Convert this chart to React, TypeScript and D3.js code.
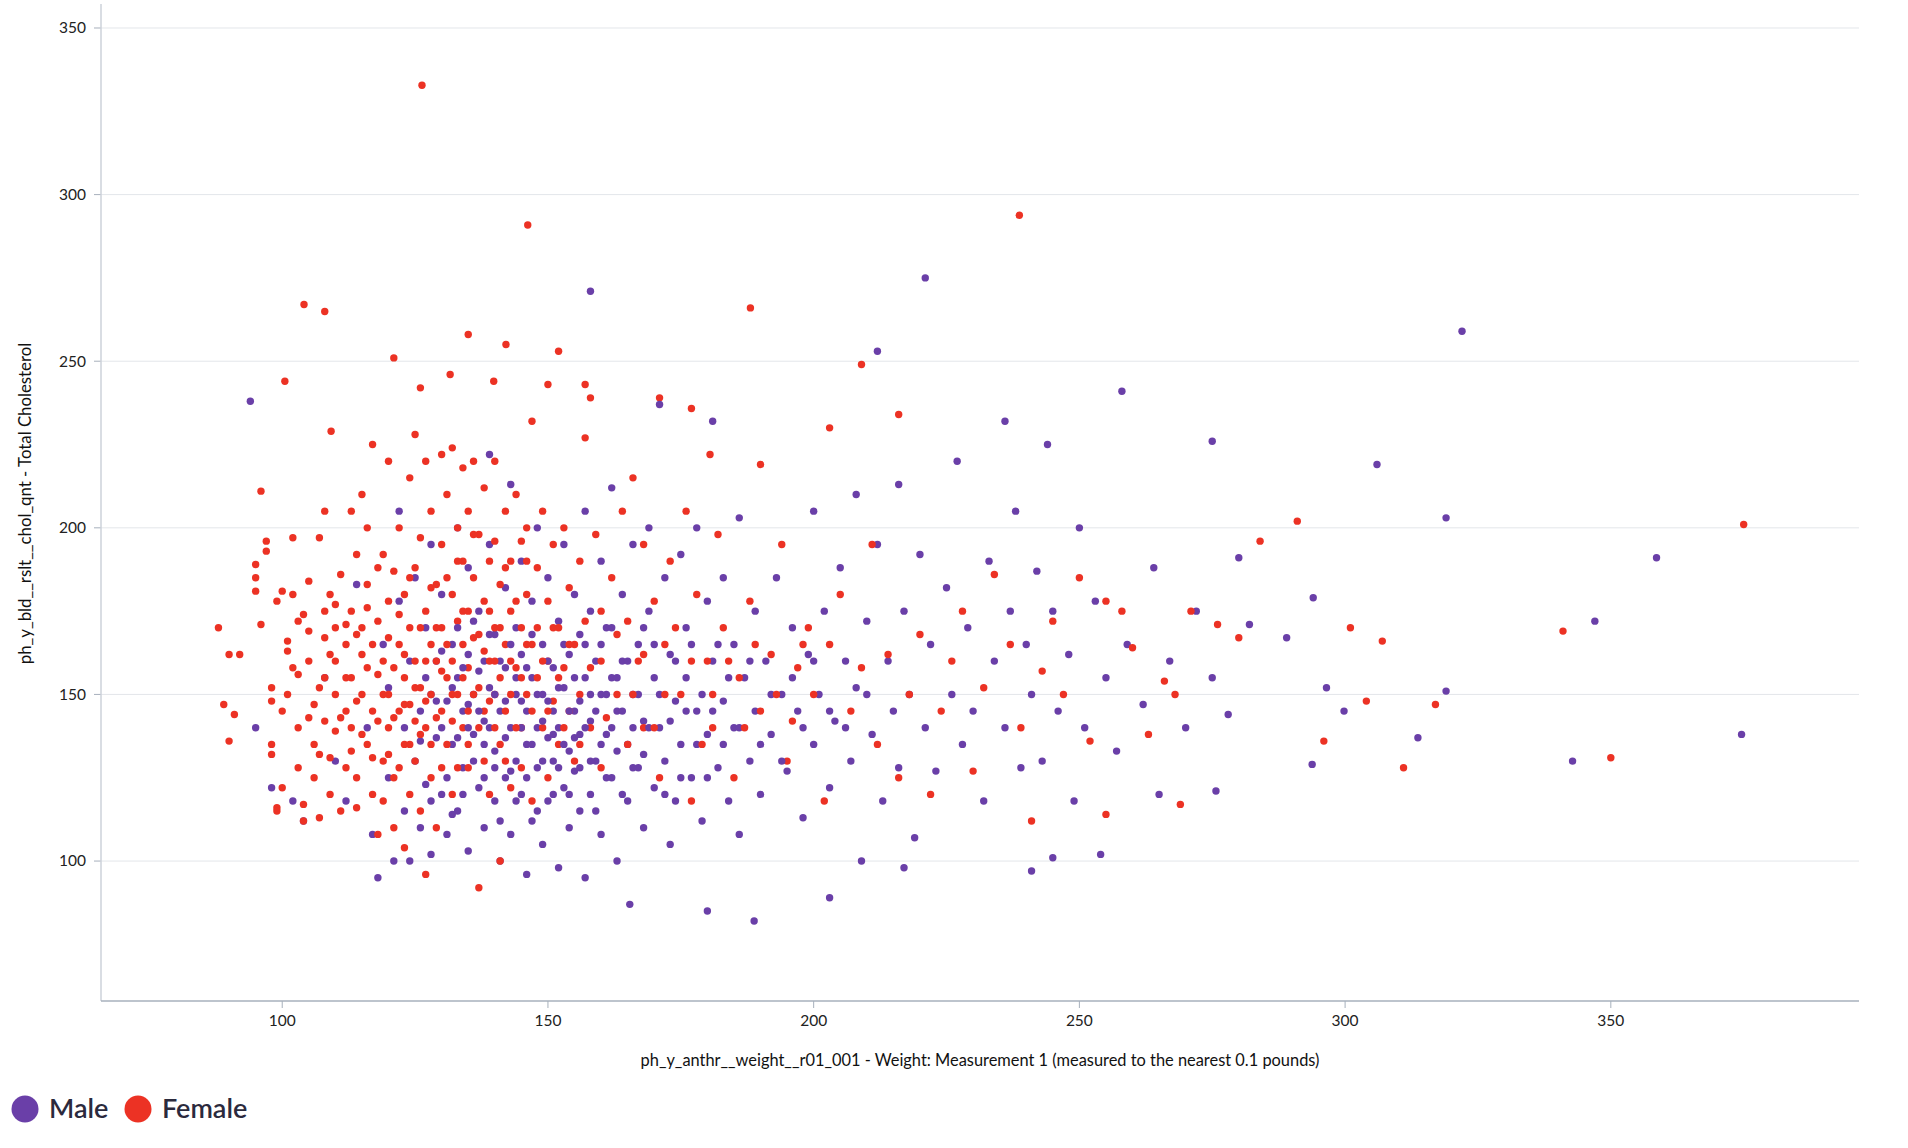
import React from "react";
import * as d3 from "d3";

const xTicks = [100, 150, 200, 250, 300, 350];
const yTicks = [100, 150, 200, 250, 300, 350];
const seriesNames = ["Male", "Female"];
const seriesColors = ["#6a3fa8", "#ec3224"];

const femaleRaw = [126.3,332.8,146.2,290.9,238.7,293.8,188.1,266,104.1,267,108,264.9,135,258,142.1,255,121,251,152,253,100.5,244,139.8,244,150,243,157,243,158,239,131.6,246,171,239,177,235.8,209,249,216,234,203,230,109.2,229,375,201,291,202,284,196,307,166,301,170,341,169,350,131,311,128,296,136,304,148,317,147,269,117,255,114,190,219,180.5,222,
88,170,89,147,90,136,90,162,92,162,91,144,95,189,95,185,95,181,96,171,96,211,97,196,97,193,98,152,98,148,98,135,98,132,99,116,99,115,100,181,99,178,101,166,101,163,101,150,100,145,100,122,102,197,102,180,103,172,103,156,103,140,103,128,104,117,104,112,105,184,105,169,105,160,106,147,106,135,106,125,107,113,107,197,108,205,108,175,108,167,108,155,108,142,109,180,109,131,109,120,110,170,110,160,110,150,110,139,111,186,111,115,112,165,112,145,112,128,113,205,113,175,113,155,113,140,114,192,114,125,114,116,115,210,115,170,115,162,115,150,116,200,116,183,116,135,117,225,117,145,117,120,118,172,118,156,118,108,119,192,119,160,119,130,120,220,120,178,120,150,120,140,121,187,121,125,121,110,122,200,122,165,122,145,123,180,123,155,123,135,123,104,124,215,124,170,124,147,124,120,125,228,125,188,125,160,125,130,126,242,126,197,126,152,126,115,127,220,127,175,127,140,127,96,128,205,128,165,128,150,128,125,129,183,129,160,129,110,130,222,130,195,130,170,130,145,131,210,131,155,131,135,132,224,132,180,132,160,132,120,133,200,133,172,133,150,134,218,134,190,134,165,134,140,135,205,135,175,135,158,135,128,136,220,136,185,136,150,137,198,137,168,137,92,138,212,138,178,138,145,139,190,139,160,139,120,140,220,140,196,140,170,140,150,141,183,141,135,141,100,142,205,142,165,142,145,143,190,143,175,143,122,144,210,144,158,145,196,145,170,145,140,146,200,146,180,146,150,147,232,147,165,147,118,148,188,148,155,149,205,149,140,150,178,150,160,150,125,151,195,151,148,152,170,152,135,153,200,153,158,154,182,154,145,155,165,155,130,156,190,156,150,157,227,157,172,158,140,159,198,160,160,160,128,162,185,163,150,164,205,165,172,165,135,166,215,167,160,168,195,168,140,170,178,171,125,172,165,173,190,175,150,176,205,177,118,178,180,180,160,181,140,182,198,183,170,185,125,186,155,188,178,190,145,192,162,194,195,195,130,197,158,199,170,200,150,202,118,203,165,205,180,207,145,209,158,211,195,212,135,214,162,216,125,218,150,220,168,222,120,224,145,226,160,228,175,230,127,232,152,234,186,237,165,239,140,241,112,243,157,245,172,247,150,250,185,252,136,255,178,258,175,260,164,263,138,266,154,268,150,271,175,276,171,280,167,
102,158,104,174,105,143,107,132,107,152,109,162,110,177,111,143,112,155,112,171,113,133,114,148,114,168,115,138,116,158,116,176,117,131,117,165,118,142,118,188,119,150,119,118,120,167,120,132,121,158,121,143,122,174,122,128,123,162,123,147,124,185,124,135,125,152,125,142,126,170,126,138,127,160,127,148,128,182,128,135,129,143,129,170,130,157,130,128,131,185,131,165,132,142,132,150,133,128,133,190,134,155,134,175,135,145,135,135,136,167,136,198,137,152,137,140,138,163,138,130,139,175,139,148,140,140,140,160,141,155,141,170,142,130,142,188,143,150,143,160,144,140,144,178,145,155,145,128,146,165,146,190,147,145,148,170,149,160,150,145,151,170,152,155,153,140,154,165,156,135,158,158,160,175,161,143,163,168,166,150,168,162,170,140,172,150,174,170,177,160,179,135,181,150,184,160,187,140,189,165,193,150,196,142,198,165];

const maleRaw = [221,275,158,271,322,259,212,253,258,241,94,238,236,232,244,225,275,226,306,219,319,203,358.6,191,347,172,374.6,138,342.8,130,313.7,137,293.8,129,299.8,145,296.5,152,319,151,188.8,82,165.4,87,180,85,203,89,254,102,245,101,241,97,217,98,275.7,121,265,120,
95,140,98,122,102,118,104,112,108,155,110,130,112,118,114,183,116,140,117,108,118,95,119,165,120,152,120,125,121,100,122,205,122,178,123,140,123,115,124,160,124,100,125,185,125,130,126,145,126,110,127,170,127,123,128,195,128,150,128,102,129,137,129,160,130,180,130,120,131,148,131,108,132,165,132,135,133,200,133,155,133,115,134,145,134,128,135,188,135,162,135,103,136,150,136,138,137,175,137,122,138,160,138,142,138,110,139,222,139,195,139,152,140,133,140,168,140,118,141,145,141,100,142,182,142,158,142,125,143,213,143,140,143,108,144,170,144,150,144,130,145,190,145,162,145,120,146,145,146,135,146,96,147,178,147,155,147,112,148,200,148,140,148,128,149,165,149,150,149,105,150,185,150,137,150,118,151,158,151,145,151,130,152,172,152,140,152,98,153,195,153,152,153,122,154,162,154,133,154,110,155,180,155,145,155,127,156,168,156,138,156,115,157,205,157,155,157,95,158,175,158,142,158,120,159,160,159,130,160,190,160,150,160,108,161,170,161,138,162,212,162,155,162,125,163,145,163,100,164,180,164,160,165,135,165,118,166,195,166,150,167,165,167,128,168,142,168,110,169,200,169,175,170,155,170,122,171,140,171,237,172,185,172,130,173,162,173,105,174,148,174,118,175,192,175,135,176,170,176,155,177,125,178,200,178,145,179,112,180,178,180,138,181,232,181,160,182,128,183,185,183,148,184,118,185,165,185,140,186,203,186,108,187,155,188,130,189,175,189,145,190,120,191,160,192,138,193,185,194,150,195,127,196,170,197,145,198,113,199,162,200,205,200,135,201,150,202,175,203,122,204,142,205,188,206,160,207,130,208,210,208,152,209,100,210,172,211,138,212,195,213,118,214,160,215,145,216,213,216,128,217,175,218,150,219,107,220,192,221,140,222,165,223,127,225,182,226,150,227,220,228,135,229,170,230,145,232,118,233,190,234,160,236,140,237,175,238,205,239,128,240,165,241,150,242,187,243,130,245,175,246,145,248,162,249,118,250,200,251,140,253,178,255,155,257,133,259,165,262,147,264,188,267,160,270,140,272,175,275,155,278,144,280,191,282,171,289,167,294,179,
126,136,127,155,128,118,129,148,130,140,130,163,131,125,132,152,132,114,133,170,133,137,134,158,134,120,135,147,135,140,136,130,136,172,137,157,137,145,138,135,138,125,139,168,139,140,140,150,140,128,141,160,141,112,142,148,142,137,143,165,143,127,144,155,144,118,145,140,145,148,146,158,146,125,147,135,147,168,148,150,148,115,149,142,149,130,150,160,150,148,151,138,151,120,152,152,152,128,153,165,153,135,154,145,154,120,155,155,155,137,156,128,156,148,157,140,157,165,158,130,158,150,159,145,159,115,160,135,160,165,161,150,161,125,162,140,162,170,163,133,163,155,164,145,164,120,165,160,166,140,166,128,167,150,168,170,168,132,169,140,170,165,171,150,172,120,173,142,174,160,175,125,176,145,177,165,178,135,179,150,180,125,181,145,182,165,183,135,184,155,186,140,188,160,190,135,192,150,194,130,196,155,198,140,200,160,203,145,206,140,210,150];

const toPairs = (a: number[]) => {
  const out: [number, number][] = [];
  for (let i = 0; i < a.length; i += 2) out.push([a[i], a[i + 1]]);
  return out;
};
const series = [toPairs(maleRaw), toPairs(femaleRaw)];

export default function App() {
  const L = 101, R = 1859, T = 6, B = 1001;
  const x = d3.scaleLinear().domain([65.9, 396.7]).range([L, R]);
  const y = d3.scaleLinear().domain([58, 356.6]).range([B, T]);
  const font = "Lato, 'Open Sans', sans-serif";
  const pts: { w: number; c: number; s: number }[] = [];
  const n = Math.max(series[0].length, series[1].length);
  for (let i = 0; i < n; i++) {
    series.forEach((sr, s) => { if (sr[i]) pts.push({ w: sr[i][0], c: sr[i][1], s }); });
  }
  return (
    <svg width={1908} height={1148} style={{ position: "absolute", left: 0, top: 0 }} fontFamily={font}>
      {yTicks.map(t => (
        <g key={t}>
          <line x1={L} x2={R} y1={y(t)} y2={y(t)} stroke="#e3e6ea" />
          <line x1={L - 7} x2={L} y1={y(t)} y2={y(t)} stroke="#a7b0bc" />
          <text x={L - 15} y={y(t)} dy="0.35em" textAnchor="end" fontSize={15.5} fill="#222">{t}</text>
        </g>
      ))}
      <line x1={L} x2={L} y1={T - 2} y2={B} stroke="#ccd2da" strokeWidth={1.5} />
      <line x1={L} x2={R} y1={B} y2={B} stroke="#a7b0bc" strokeWidth={1.5} />
      {xTicks.map(t => (
        <g key={t}>
          <line x1={x(t)} x2={x(t)} y1={B} y2={B + 7} stroke="#a7b0bc" />
          <text x={x(t)} y={B + 25} textAnchor="middle" fontSize={15.5} fill="#222">{t}</text>
        </g>
      ))}
      {pts.map((p, i) => (
        <circle key={i} cx={x(p.w)} cy={y(p.c)} r={3.7} fill={seriesColors[p.s]} />
      ))}
      <text x={(L + R) / 2} y={1066} textAnchor="middle" fontSize={16.4} fill="#111">
        ph_y_anthr__weight__r01_001 - Weight: Measurement 1 (measured to the nearest 0.1 pounds)
      </text>
      <text transform={`translate(31,${(T + B) / 2}) rotate(-90)`} textAnchor="middle" fontSize={16.8} fill="#111">
        ph_y_bld__rslt__chol_qnt - Total Cholesterol
      </text>
      {seriesNames.map((nm, i) => {
        const cx = i === 0 ? 25 : 138;
        return (
          <g key={nm}>
            <circle cx={cx} cy={1109} r={13.5} fill={seriesColors[i]} />
            <text x={cx + 24} y={1109} dy="0.35em" fontSize={27} fontWeight={600} fill="#2b2a3d">{nm}</text>
          </g>
        );
      })}
    </svg>
  );
}
